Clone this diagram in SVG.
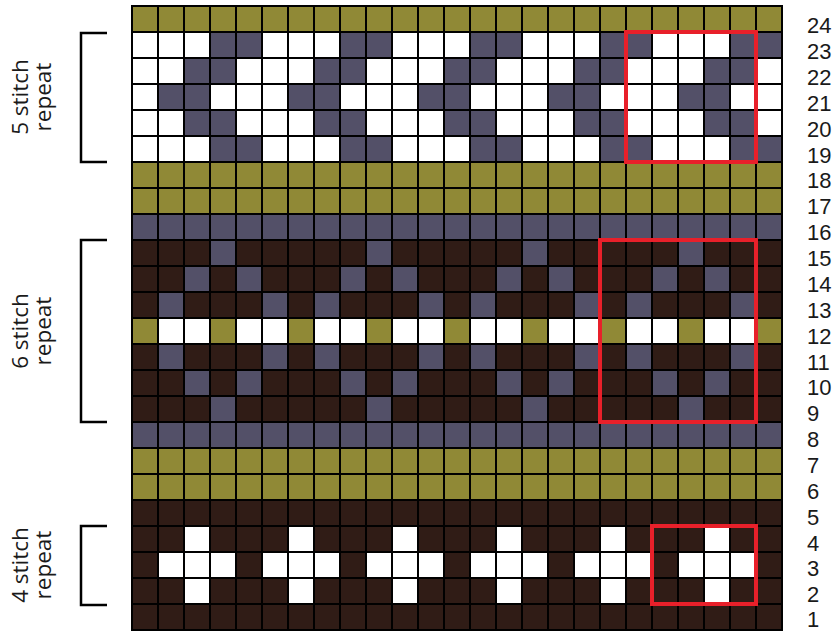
<svg xmlns="http://www.w3.org/2000/svg" width="839" height="632" viewBox="0 0 839 632">
<style>
.o{fill:#908936}.p{fill:#535068}.b{fill:#301c16}.w{fill:#ffffff}
.num{font-family:"Liberation Sans",Arial,sans-serif;font-size:22px;fill:#1a1a1a}
.lbl{font-family:"Open Sans","Liberation Sans",sans-serif;font-size:22.5px;fill:#1a1a1a;text-anchor:middle}
.br{fill:none;stroke:#000;stroke-width:2.5}
.box{fill:none;stroke:#e8202a;stroke-width:4}
</style>
<defs>
<pattern id="p5" patternUnits="userSpaceOnUse" x="132" y="32" width="130" height="130">
<rect class="p" width="130" height="130"/>
<rect class="w" x="0" y="0" width="78" height="26"/>
<rect class="w" x="0" y="26" width="52" height="26"/><rect class="w" x="104" y="26" width="26" height="26"/>
<rect class="w" x="0" y="52" width="26" height="26"/><rect class="w" x="78" y="52" width="52" height="26"/>
<rect class="w" x="0" y="78" width="52" height="26"/><rect class="w" x="104" y="78" width="26" height="26"/>
<rect class="w" x="0" y="104" width="78" height="26"/>
</pattern>
<pattern id="p6" patternUnits="userSpaceOnUse" x="132" y="240" width="156" height="182">
<rect class="b" width="156" height="182"/>
<rect class="p" x="78" y="0" width="26" height="26"/>
<rect class="p" x="52" y="26" width="26" height="26"/><rect class="p" x="104" y="26" width="26" height="26"/>
<rect class="p" x="26" y="52" width="26" height="26"/><rect class="p" x="130" y="52" width="26" height="26"/>
<rect class="o" x="0" y="78" width="156" height="26"/>
<rect class="w" x="26" y="78" width="52" height="26"/><rect class="w" x="104" y="78" width="52" height="26"/>
<rect class="p" x="26" y="104" width="26" height="26"/><rect class="p" x="130" y="104" width="26" height="26"/>
<rect class="p" x="52" y="130" width="26" height="26"/><rect class="p" x="104" y="130" width="26" height="26"/>
<rect class="p" x="78" y="156" width="26" height="26"/>
</pattern>
<pattern id="p4" patternUnits="userSpaceOnUse" x="132" y="526" width="104" height="78">
<rect class="b" width="104" height="78"/>
<rect class="w" x="52" y="0" width="26" height="26"/>
<rect class="w" x="26" y="26" width="78" height="26"/>
<rect class="w" x="52" y="52" width="26" height="26"/>
</pattern>
<pattern id="grid" patternUnits="userSpaceOnUse" x="131" y="5" width="26" height="26">
<rect width="26" height="2" fill="#000"/><rect width="2" height="26" fill="#000"/>
</pattern>
</defs>
<rect width="839" height="632" fill="#ffffff"/>
<g id="chart">
<rect class="o" x="132" y="6" width="650" height="26"/>
<rect x="132" y="32" width="650" height="130" fill="url(#p5)"/>
<rect class="o" x="132" y="162" width="650" height="52"/>
<rect class="p" x="132" y="214" width="650" height="26"/>
<rect x="132" y="240" width="650" height="182" fill="url(#p6)"/>
<rect class="p" x="132" y="422" width="650" height="26"/>
<rect class="o" x="132" y="448" width="650" height="52"/>
<rect class="b" x="132" y="500" width="650" height="26"/>
<rect x="132" y="526" width="650" height="78" fill="url(#p4)"/>
<rect class="b" x="132" y="604" width="650" height="26"/>
<rect x="131" y="5" width="652" height="626" fill="url(#grid)"/>
</g>
<g id="repeat-boxes">
<rect class="box" x="626" y="32" width="130" height="130"/>
<rect class="box" x="600" y="240" width="156" height="182"/>
<rect class="box" x="652" y="526" width="104" height="78"/>
</g>
<g id="brackets">
<path class="br" d="M107 33H81V162H107"/>
<path class="br" d="M107 240H81V422H107"/>
<path class="br" d="M107 526H81V605H107"/>
</g>
<g id="label-5">
<text class="lbl" transform="translate(28,97) rotate(-90)">5 stitch</text>
<text class="lbl" transform="translate(51,97) rotate(-90)">repeat</text>
</g>
<g id="label-6">
<text class="lbl" transform="translate(28,331) rotate(-90)">6 stitch</text>
<text class="lbl" transform="translate(51,331) rotate(-90)">repeat</text>
</g>
<g id="label-4">
<text class="lbl" transform="translate(28,565) rotate(-90)">4 stitch</text>
<text class="lbl" transform="translate(51,565) rotate(-90)">repeat</text>
</g>
<g id="row-numbers" class="num">
<text x="807" y="33">24</text>
<text x="807" y="59">23</text>
<text x="807" y="85">22</text>
<text x="807" y="111">21</text>
<text x="807" y="136.5">20</text>
<text x="807" y="162.5">19</text>
<text x="807" y="188">18</text>
<text x="807" y="214">17</text>
<text x="807" y="240">16</text>
<text x="807" y="266">15</text>
<text x="807" y="292">14</text>
<text x="807" y="317.5">13</text>
<text x="807" y="343.5">12</text>
<text x="807" y="369.5">11</text>
<text x="807" y="395">10</text>
<text x="807" y="421">9</text>
<text x="807" y="447">8</text>
<text x="807" y="473">7</text>
<text x="807" y="498.5">6</text>
<text x="807" y="524.5">5</text>
<text x="807" y="550.5">4</text>
<text x="807" y="576">3</text>
<text x="807" y="602">2</text>
<text x="807" y="627">1</text>
</g>
</svg>
